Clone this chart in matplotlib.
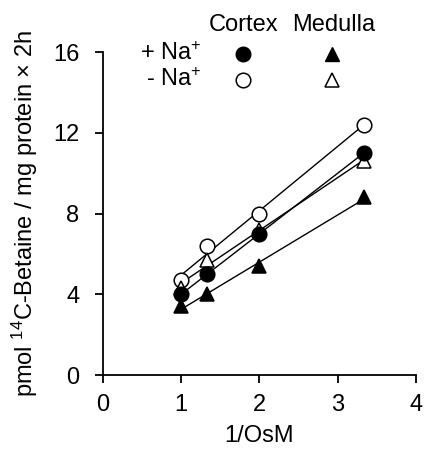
import numpy as np
import matplotlib
matplotlib.use("Agg")
import matplotlib.pyplot as plt

plt.rcParams["font.family"] = ["Liberation Sans", "DejaVu Sans"]
plt.rcParams["mathtext.fontset"] = "custom"
plt.rcParams["mathtext.rm"] = "Liberation Sans"
plt.rcParams["mathtext.it"] = "Liberation Sans"

# 1/OsM values
inv_osm = [1.0, 1.333, 2.0, 3.333]
cortex_na = [4.0, 5.0, 7.0, 11.0]       # + Na+, filled circle
cortex_nona = [4.7, 6.4, 8.0, 12.4]     # - Na+, open circle
medulla_na = [3.4, 4.0, 5.4, 8.8]       # + Na+, filled triangle
medulla_nona = [4.3, 5.7, 7.2, 10.6]    # - Na+, open triangle

x_ticks = [0, 1, 2, 3, 4]
y_ticks = [0, 4, 8, 12, 16]

FS = 17

fig = plt.figure(figsize=(4.25, 4.51), dpi=100)
ax = fig.add_axes([0.242, 0.1685, 0.737, 0.716])

series = [
    (cortex_nona, "o", "white"),
    (medulla_nona, "^", "white"),
    (cortex_na, "o", "black"),
    (medulla_na, "^", "black"),
]
x = np.array(inv_osm)
xfit = np.array([x.min(), x.max()])
for ys, mk, fc in series:
    k, b = np.polyfit(x, ys, 1)
    ax.plot(xfit, k * xfit + b, color="black", lw=1.0, zorder=2)
for ys, mk, fc in series:
    ax.plot(x, ys, linestyle="none", marker=mk, ms=10.5, mfc=fc, mec="black",
            mew=1.1, zorder=3, clip_on=False)

ax.set_xlim(0, 4)
ax.set_ylim(0, 16)
ax.set_xticks(x_ticks)
ax.set_yticks(y_ticks)
for s in ["top", "right"]:
    ax.spines[s].set_visible(False)
for s in ["left", "bottom"]:
    ax.spines[s].set_linewidth(1.3)
ax.tick_params(direction="out", length=6, width=1.3, labelsize=FS)
ax.tick_params(axis="x", pad=8)
ax.tick_params(axis="y", pad=11)
ax.set_xlabel("1/OsM", fontsize=FS, labelpad=6)
ax.set_ylabel("pmol $^{14}$C-Betaine / mg protein × 2h", fontsize=FS, labelpad=9)

# legend key block
tr = ax.transAxes
ax.text(0.449, 1.083, "Cortex", transform=tr, fontsize=FS, ha="center", va="center")
ax.text(0.738, 1.083, "Medulla", transform=tr, fontsize=FS, ha="center", va="center")
ax.text(0.316, 0.994, "+ Na$^{+}$", transform=tr, fontsize=FS, ha="right", va="center")
ax.text(0.316, 0.914, "- Na$^{+}$", transform=tr, fontsize=FS, ha="right", va="center")
ax.plot([0.447], [0.994], transform=tr, marker="o", ms=10.5, mfc="black", mec="black", clip_on=False)
ax.plot([0.447], [0.914], transform=tr, marker="o", ms=10.5, mfc="white", mec="black", mew=1.1, clip_on=False)
ax.plot([0.732], [0.994], transform=tr, marker="^", ms=10.5, mfc="black", mec="black", clip_on=False)
ax.plot([0.732], [0.914], transform=tr, marker="^", ms=10.5, mfc="white", mec="black", mew=1.1, clip_on=False)

fig.savefig("out.png", dpi=100)
